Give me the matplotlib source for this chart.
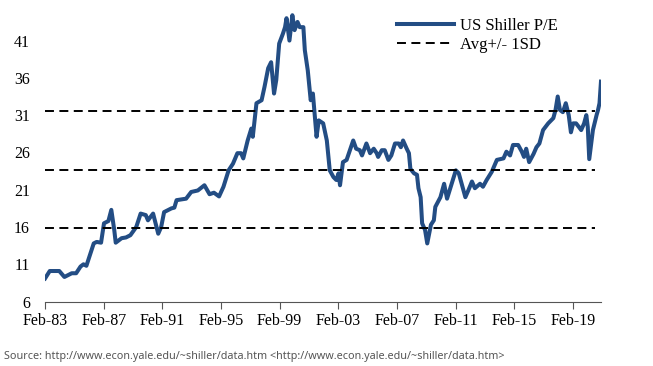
import matplotlib
matplotlib.use('Agg')
import matplotlib.pyplot as plt

# US Shiller P/E (decimal year, value)
years = [1983.08, 1983.4, 1984.05, 1984.4, 1984.9, 1985.2, 1985.5, 1985.7, 1985.9,
         1986.4, 1986.6, 1986.9, 1987.1, 1987.4, 1987.6, 1987.8, 1987.9, 1988.3,
         1988.6, 1988.9, 1989.3, 1989.6, 1989.95, 1990.1, 1990.45, 1990.8, 1991.0,
         1991.2, 1991.7, 1991.9, 1992.05, 1992.7, 1993.05, 1993.5, 1993.95, 1994.3,
         1994.6, 1994.95, 1995.25, 1995.6, 1995.9, 1996.2, 1996.45, 1996.6, 1996.9,
         1997.15, 1997.25, 1997.5, 1997.85, 1998.05, 1998.3, 1998.5, 1998.7, 1998.85,
         1999.05, 1999.3, 1999.45, 1999.55, 1999.75, 1999.95, 2000.1, 2000.3, 2000.45,
         2000.7, 2000.8, 2001.0, 2001.2, 2001.35, 2001.6, 2001.75, 2002.05, 2002.3,
         2002.5, 2002.75, 2002.95, 2003.1, 2003.2, 2003.4, 2003.65, 2004.1, 2004.3,
         2004.55, 2004.7, 2005.0, 2005.25, 2005.5, 2005.7, 2005.8, 2006.05, 2006.25,
         2006.5, 2006.7, 2006.95, 2007.2, 2007.35, 2007.5, 2007.75, 2007.9, 2008.0,
         2008.25, 2008.45, 2008.55, 2008.7, 2008.8, 2009.0, 2009.15, 2009.4, 2009.6,
         2009.7, 2010.05, 2010.3, 2010.5, 2010.75, 2011.1, 2011.3, 2011.75, 2011.95,
         2012.2, 2012.4, 2012.75, 2012.95, 2013.2, 2013.55, 2013.9, 2014.35, 2014.55,
         2014.8, 2015.0, 2015.35, 2015.6, 2015.75, 2015.9, 2016.1, 2016.4, 2016.6,
         2016.8, 2017.05, 2017.4, 2017.75, 2017.9, 2018.05, 2018.2, 2018.4, 2018.6,
         2018.8, 2018.95, 2019.1, 2019.3, 2019.5, 2019.65, 2019.85, 2020.0, 2020.1,
         2020.2, 2020.45, 2020.7, 2020.8, 2020.9, 2021.0]
pe = [9.1, 10.1, 10.1, 9.3, 9.8, 9.8, 10.7, 11.0, 10.8,
      13.8, 14.0, 13.9, 16.5, 16.8, 18.3, 15.6, 13.9, 14.5,
      14.6, 14.9, 16.0, 17.8, 17.6, 16.9, 17.8, 15.1, 16.0,
      18.0, 18.5, 18.6, 19.6, 19.8, 20.7, 20.9, 21.6, 20.4,
      20.6, 20.1, 21.4, 23.6, 24.5, 25.9, 25.9, 25.2, 27.6,
      29.2, 28.1, 32.6, 33.0, 34.8, 37.3, 38.1, 33.9, 35.7,
      40.6, 41.9, 42.8, 44.0, 41.0, 44.4, 42.4, 43.5, 42.8,
      42.8, 39.7, 37.0, 33.0, 33.9, 28.1, 30.3, 29.9, 27.6,
      23.6, 22.7, 22.3, 23.2, 21.6, 24.7, 25.0, 27.6, 26.5,
      26.3, 25.6, 27.2, 25.9, 26.5, 25.9, 25.4, 26.3, 26.3,
      25.0, 25.6, 27.2, 27.2, 26.7, 27.6, 26.5, 25.9, 23.8,
      23.2, 23.0, 21.2, 20.0, 16.5, 15.6, 13.8, 16.3, 16.9,
      18.7, 20.0, 21.8, 19.8, 21.4, 23.6, 23.2, 20.0, 20.9,
      22.1, 21.2, 21.8, 21.4, 22.3, 23.4, 25.0, 25.2, 26.1,
      25.6, 27.0, 27.0, 26.1, 25.4, 26.5, 24.7, 25.8, 26.7,
      27.2, 29.0, 29.9, 30.6, 31.7, 33.5, 31.7, 31.4, 32.6,
      31.0, 28.7, 29.9, 29.9, 29.4, 29.0, 29.9, 31.0, 29.4,
      25.1, 29.0, 31.0, 31.7, 32.6, 35.5]

# Average and +/- 1 standard deviation
bands = [31.5, 23.7, 15.9]

tick_years = [1983, 1987, 1991, 1995, 1999, 2003, 2007, 2011, 2015, 2019]
tick_labels = ['Feb-83', 'Feb-87', 'Feb-91', 'Feb-95', 'Feb-99',
               'Feb-03', 'Feb-07', 'Feb-11', 'Feb-15', 'Feb-19']
y_ticks = [6, 11, 16, 21, 26, 31, 36, 41]

plt.rcParams['font.family'] = ['Liberation Serif', 'DejaVu Serif']

fig = plt.figure(figsize=(6.53, 3.66), dpi=100)
ax = fig.add_axes([0.069, 0.176, 0.852, 0.815])

ax.plot(years, pe, color='#234d84', lw=2.9, solid_joinstyle='round',
        label='US Shiller P/E')
for i, b in enumerate(bands):
    ax.plot([1983.08, 2020.6], [b, b], color='black', lw=1.4,
            dashes=(4.6, 2.8), label='Avg+/- 1SD' if i == 0 else None)

ax.set_xlim(1983.08, 2021.03)
ax.set_ylim(6, 46)
ax.set_xticks([y + 1 / 12 for y in tick_years])
ax.set_xticklabels(tick_labels, fontsize=11.5)
ax.set_yticks(y_ticks)
ax.set_yticklabels([str(v) for v in y_ticks], fontsize=11.5)

for s in ['top', 'right', 'left']:
    ax.spines[s].set_visible(False)
ax.spines['bottom'].set_color('#555555')
ax.tick_params(axis='y', length=0, pad=11)
ax.tick_params(axis='x', length=5, color='#555555', pad=3)

ax.legend(loc='upper left', bbox_to_anchor=(0.585, 0.993),
          bbox_transform=fig.transFigure, frameon=False, fontsize=12,
          handlelength=3.4, handletextpad=0.35, labelspacing=0.2)

fig.text(0.006, 0.02, 'Source: http://www.econ.yale.edu/~shiller/data.htm '
         '<http://www.econ.yale.edu/~shiller/data.htm>',
         fontsize=7.8, color='#555555', family=['Noto Sans', 'DejaVu Sans'])

fig.savefig('out.png', dpi=100)
